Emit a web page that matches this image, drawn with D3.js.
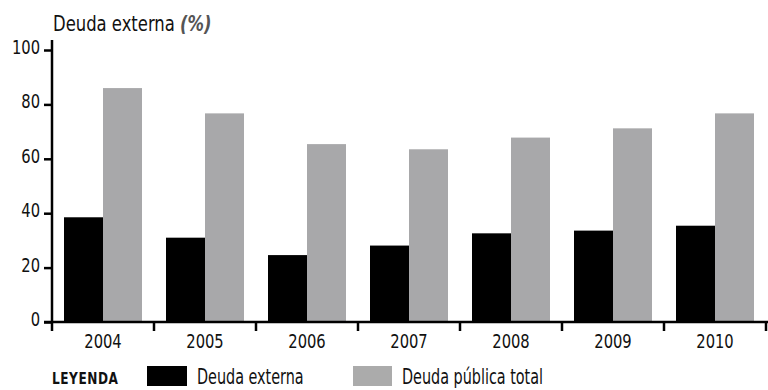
<!DOCTYPE html>
<html>
<head>
<meta charset="utf-8">
<script src="https://cdn.jsdelivr.net/npm/d3@7"></script>
<style>
  html, body { margin: 0; padding: 0; background: #fff; }
  svg { display: block; }
  text { font-family: "DejaVu Sans Condensed", "DejaVu Sans", sans-serif; font-stretch: condensed; fill: #111; }
</style>
</head>
<body>
<svg id="chart" width="768" height="390"></svg>
<script>
// Years on the x axis
const years = ["2004", "2005", "2006", "2007", "2008", "2009", "2010"];
// External debt (% of GDP)
const deudaExterna = [38.5, 31, 24.6, 28.1, 32.6, 33.6, 35.4];
// Total public debt (% of GDP)
const deudaPublicaTotal = [86, 76.7, 65.4, 63.5, 67.8, 71.2, 76.7];
// Y axis tick values
const yTicks = [0, 20, 40, 60, 80, 100];
// Series names and legend labels
const seriesNames = ["Deuda externa", "Deuda pública total"];
const seriesColors = ["#000000", "#a8a8aa"];

const svg = d3.select("#chart");
const axisX = 52;
const baseY = 322;
const squeeze = 0.82; // horizontal squeeze to get a narrow type look

// Text placed at (x, y) and squeezed horizontally about its anchor
function narrowText(parent, x, y, str, size, anchor, sx) {
  const t = parent.append("text")
    .attr("transform", `translate(${x},${y}) scale(${sx || squeeze},1)`)
    .attr("font-size", size)
    .attr("text-anchor", anchor || "start");
  if (str !== null) t.text(str);
  return t;
}

const x = d3.scaleBand().domain(years).range([axisX, 766]);
const xs = d3.scaleBand().domain(seriesNames).range([12, x.bandwidth() - 12]);
const y = d3.scaleLinear().domain([0, 100]).range([baseY, 50]);

// Bars
const rows = years.map((yr, i) => ({ year: yr, values: [deudaExterna[i], deudaPublicaTotal[i]] }));
svg.append("g").selectAll("g.year").data(rows).join("g")
  .attr("class", "year")
  .attr("transform", d => `translate(${x(d.year)},0)`)
  .selectAll("rect").data(d => d.values.map((v, k) => ({ key: seriesNames[k], v, k })))
  .join("rect")
  .attr("x", d => xs(d.key))
  .attr("width", xs.bandwidth())
  .attr("y", d => y(d.v))
  .attr("height", d => baseY - y(d.v))
  .attr("fill", d => seriesColors[d.k]);

// Y axis: ticks via d3.axisLeft, labels drawn narrow
const ya = svg.append("g").attr("transform", `translate(${axisX},0)`)
  .call(d3.axisLeft(y).tickValues(yTicks).tickSize(8).tickFormat(""));
ya.select(".domain").remove();
ya.selectAll(".tick line").attr("stroke", "#000").attr("stroke-width", 2.5);
yTicks.forEach(v => narrowText(svg, 40, y(v) + 4, String(v), 20, "end"));
svg.append("line").attr("x1", axisX).attr("x2", axisX)
  .attr("y1", 40).attr("y2", baseY + 1).attr("stroke", "#000").attr("stroke-width", 2.5);

// X axis: ticks at category boundaries, labels centred in each band
svg.append("line").attr("x1", 44).attr("x2", 768).attr("y1", baseY).attr("y2", baseY)
  .attr("stroke", "#000").attr("stroke-width", 2.5);
const bounds = years.map(yr => x(yr)).concat([x(years[years.length - 1]) + x.bandwidth()]);
svg.append("g").selectAll("line").data(bounds).join("line")
  .attr("x1", d => d).attr("x2", d => d)
  .attr("y1", baseY).attr("y2", baseY + 9)
  .attr("stroke", "#000").attr("stroke-width", 2.5);
years.forEach(yr => narrowText(svg, x(yr) + x.bandwidth() / 2, 348, yr, 20, "middle"));

// Title
const title = narrowText(svg, 53, 31, null, 22, "start", 0.83);
title.append("tspan").text("Deuda externa ");
title.append("tspan").attr("font-style", "italic").attr("font-weight", "bold").attr("fill", "#555").text("(%)");

// Legend
narrowText(svg, 52, 384, "LEYENDA", 15, "start", 0.9)
  .attr("font-weight", "bold").attr("letter-spacing", "0.6");
const legendX = [147, 353];
const legendW = [40, 39];
const legendTextX = [197, 402];
const legendFill = ["#000000", "#ababab"];
seriesNames.forEach((name, i) => {
  svg.append("rect").attr("x", legendX[i]).attr("y", 366)
    .attr("width", legendW[i]).attr("height", 20).attr("fill", legendFill[i]);
  narrowText(svg, legendTextX[i], 384, name, 22, "start", 0.727);
});
</script>
</body>
</html>
